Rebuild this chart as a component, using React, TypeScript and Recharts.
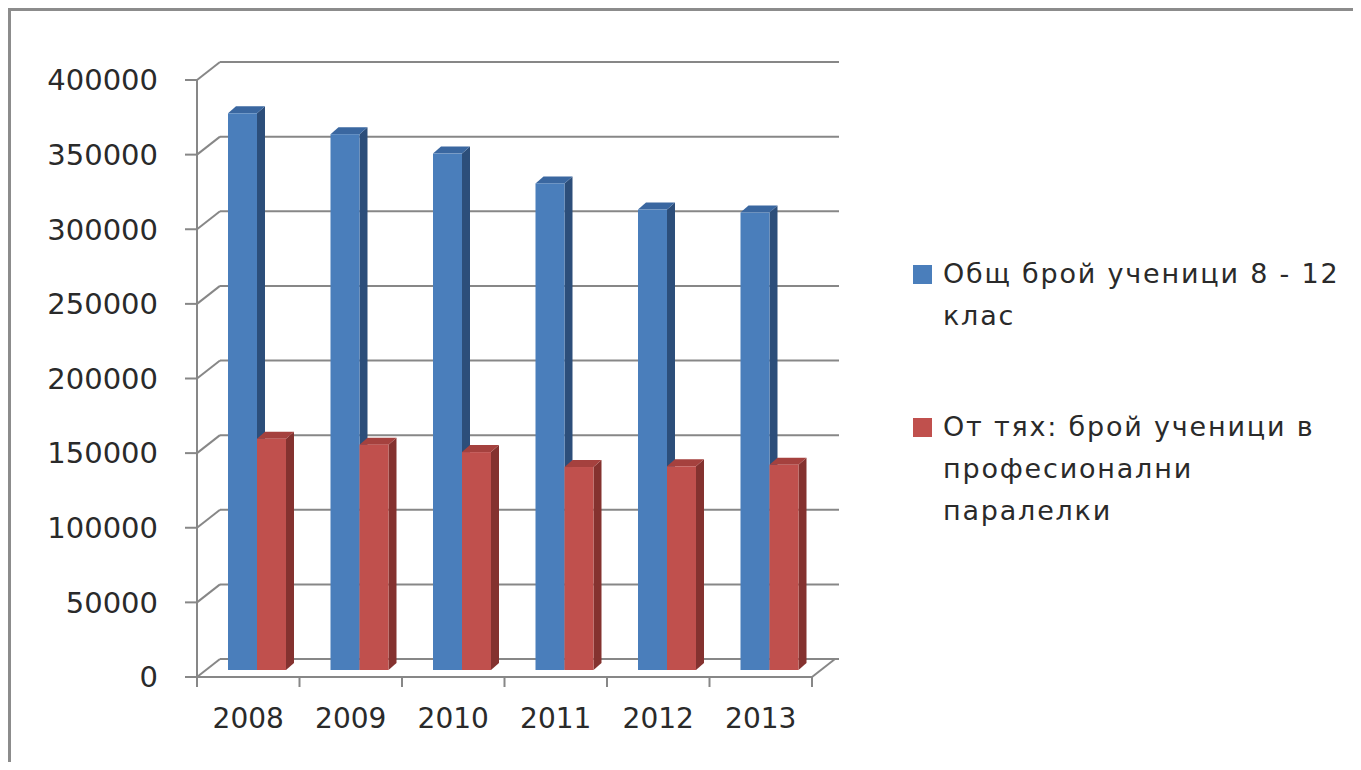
import React from 'react';
import { BarChart, Bar, XAxis, YAxis, CartesianGrid, Legend } from 'recharts';

const YEARS = ['2008', '2009', '2010', '2011', '2012', '2013'];
const TOTAL = [373000, 359000, 346000, 326000, 308500, 306500];
const VOCATIONAL = [155000, 151000, 146000, 136000, 136500, 137500];
const Y_TICKS = [0, 50000, 100000, 150000, 200000, 250000, 300000, 350000, 400000];
const SERIES_NAMES = [
  'Общ брой ученици 8 - 12 клас',
  'От тях: брой ученици в професионални паралелки',
];
const LEGEND_LINES = [
  ['Общ брой ученици 8 - 12', 'клас'],
  ['От тях: брой ученици в', 'професионални', 'паралелки'],
];
const FRONT_COLORS = ['#4a7ebb', '#c0504d'];
const SIDE_COLORS = ['#2c4e7a', '#84322f'];
const TOP_COLORS = ['#3a67a0', '#a5413e'];

const data = YEARS.map((year, i) => ({ year, total: TOTAL[i], vocational: VOCATIONAL[i] }));

// layout
const W = 1340;
const H = 740;
const MARGIN = { top: 69, right: 539, bottom: 0, left: 0 };
const YAXIS_W = 186;
const XAXIS_H = 74;
const PLOT_W = W - MARGIN.left - MARGIN.right - YAXIS_W;
const BAND = PLOT_W / YEARS.length;
// perspective offsets
const DX = 23;
const DY = -18;
const BX = 9;
const BY = -7;
const SX = 8;
const SY = -7;

const AXIS_COLOR = '#878787';
const TEXT_COLOR = '#2a2a2a';
const FONT = '"DejaVu Sans", sans-serif';

const make3DBar = (idx: number) => (props: any) => {
  const { x, y, width, height } = props;
  if (width == null || height == null || isNaN(x) || isNaN(y)) return null;
  const fx = x + BX;
  const fy = y + BY;
  const side = `${fx + width},${fy} ${fx + width + SX},${fy + SY} ${fx + width + SX},${fy + height + SY} ${fx + width},${fy + height}`;
  const top = `${fx},${fy} ${fx + SX},${fy + SY} ${fx + width + SX},${fy + SY} ${fx + width},${fy}`;
  return (
    <g>
      <polygon points={side} fill={SIDE_COLORS[idx]} />
      <polygon points={top} fill={TOP_COLORS[idx]} />
      <rect x={fx} y={fy} width={width} height={height} fill={FRONT_COLORS[idx]} />
    </g>
  );
};

const gridLine = (props: any) => {
  const { x1, y1, x2 } = props;
  return (
    <g key={props.key}>
      <line x1={x1} y1={y1} x2={x1 + DX} y2={y1 + DY} stroke={AXIS_COLOR} strokeWidth={2} />
      <line x1={x1 + DX} y1={y1 + DY} x2={x2 + DX + 4} y2={y1 + DY} stroke={AXIS_COLOR} strokeWidth={2} />
    </g>
  );
};

const XTick = (props: any) => {
  const { x, y, payload, index } = props;
  const half = BAND / 2;
  return (
    <g>
      {index === 0 && (
        <line x1={x - half} y1={y} x2={x - half} y2={y + 10} stroke={AXIS_COLOR} strokeWidth={2} />
      )}
      <line x1={x + half} y1={y} x2={x + half} y2={y + 10} stroke={AXIS_COLOR} strokeWidth={2} />
      {index === YEARS.length - 1 && (
        <line x1={x + half} y1={y} x2={x + half + DX} y2={y + DY} stroke={AXIS_COLOR} strokeWidth={2} />
      )}
      <text
        x={x}
        y={y + 31}
        dy="0.71em"
        textAnchor="middle"
        fontFamily={FONT}
        fontSize={28}
        fill={TEXT_COLOR}
      >
        {payload.value}
      </text>
    </g>
  );
};

const LegendContent = () => (
  <div style={{ fontFamily: FONT, fontSize: 27, color: TEXT_COLOR, letterSpacing: 1.8 }}>
    {LEGEND_LINES.map((lines, i) => (
      <div
        key={i}
        style={{ display: 'flex', alignItems: 'flex-start', marginBottom: i === 0 ? 69 : 0 }}
      >
        <div
          style={{
            width: 19,
            height: 19,
            background: FRONT_COLORS[i],
            marginTop: 12,
            marginRight: 11,
            flex: 'none',
          }}
        />
        <div style={{ lineHeight: '42px', whiteSpace: 'nowrap' }}>
          {lines.map((l, j) => (
            <div key={j}>{l}</div>
          ))}
        </div>
      </div>
    ))}
  </div>
);

export default function App() {
  return (
    <div
      style={{
        position: 'relative',
        width: 1353,
        height: 754,
        boxSizing: 'border-box',
        borderTop: '3px solid #8c8c8c',
        borderLeft: '3px solid #8c8c8c',
        background: '#fff',
      }}
    >
      <BarChart width={W} height={H} data={data} margin={MARGIN} barGap={0} barSize={29}>
        <CartesianGrid vertical={false} horizontal={gridLine} />
        <XAxis
          dataKey="year"
          height={XAXIS_H}
          interval={0}
          tickSize={0}
          tickMargin={0}
          tickLine={false}
          axisLine={{ stroke: AXIS_COLOR, strokeWidth: 2 }}
          tick={XTick}
        />
        <YAxis
          width={YAXIS_W}
          domain={[0, 400000]}
          ticks={Y_TICKS}
          interval={0}
          tickSize={12}
          tickMargin={27}
          axisLine={{ stroke: AXIS_COLOR, strokeWidth: 2 }}
          tickLine={{ stroke: AXIS_COLOR, strokeWidth: 2 }}
          tick={{ fontFamily: FONT, fontSize: 29, fill: TEXT_COLOR }}
        />
        <Legend
          layout="vertical"
          align="center"
          verticalAlign="middle"
          content={LegendContent}
          wrapperStyle={{ left: 902, top: 242, width: 440 }}
        />
        <Bar
          dataKey="total"
          name={SERIES_NAMES[0]}
          fill={FRONT_COLORS[0]}
          shape={make3DBar(0)}
          isAnimationActive={false}
        />
        <Bar
          dataKey="vocational"
          name={SERIES_NAMES[1]}
          fill={FRONT_COLORS[1]}
          shape={make3DBar(1)}
          isAnimationActive={false}
        />
      </BarChart>
    </div>
  );
}
